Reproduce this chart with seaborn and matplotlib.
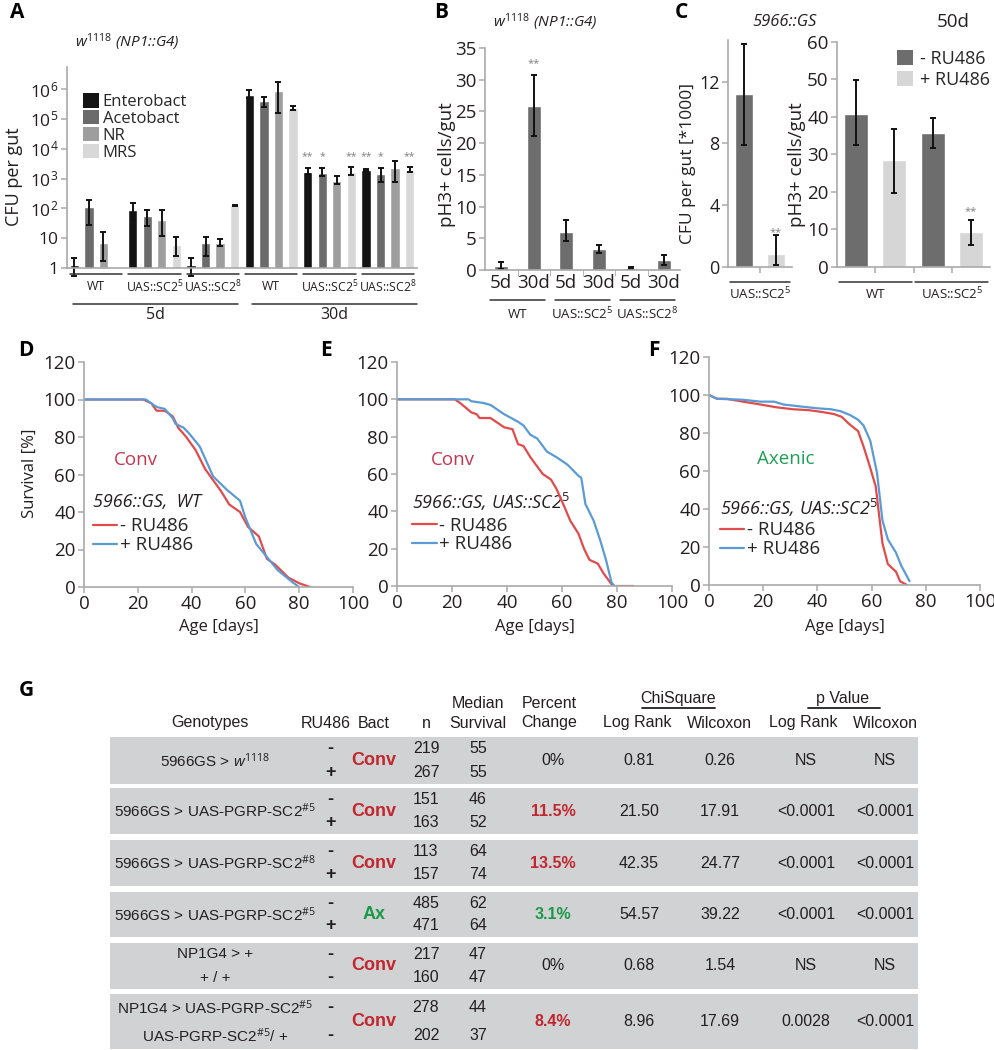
import numpy as np
import pandas as pd
import seaborn as sns
import matplotlib.pyplot as plt
from matplotlib.patches import Patch, Rectangle
from matplotlib.lines import Line2D
from matplotlib.ticker import NullLocator
from matplotlib.transforms import blended_transform_factory

sns.set_style("ticks")
plt.rcParams['font.family'] = ['Open Sans', 'DejaVu Sans']
plt.rcParams['mathtext.fontset'] = 'custom'
plt.rcParams['mathtext.rm'] = 'Open Sans'
plt.rcParams['mathtext.it'] = 'Open Sans:italic'
plt.rcParams['mathtext.bf'] = 'Open Sans:bold'

GRAY = '#a9a9a9'
INK = '#231f20'
RED = '#e24b4b'
BLUE = '#5b9bd5'
CONV = '#c8344f'
AXEN = '#1e9e55'
TRED = '#c1272d'
TGREEN = '#1a9a48'
DARK = '#6d6d6d'
LIGHT = '#d6d6d6'

# ---------------- A: CFU per gut, w1118 (NP1::G4) ----------------
a_groups = ['WT 5d', 'SC2-5 5d', 'SC2-8 5d', 'WT 30d', 'SC2-5 30d', 'SC2-8 30d']
a_bact = ['Enterobact', 'Acetobact', 'NR', 'MRS']
a_colors = ['#141414', '#6b6b6b', '#9e9e9e', '#d8d8d8']
a_entero = [1.3, 90, 1.3, 6.4e5, 1.7e3, 1.95e3]
a_entero_lo = [0.55, 42, 0.55, 5.0e5, 1.45e3, 1.85e3]
a_entero_hi = [2.2, 150, 2.2, 9.0e5, 2.25e3, 2.1e3]
a_aceto = [110, 54, 7, 3.9e5, 1.5e3, 1.45e3]
a_aceto_lo = [28, 25, 2.5, 2.5e5, 1.2e3, 760]
a_aceto_hi = [195, 90, 11, 5.6e5, 2.25e3, 2.25e3]
a_nr = [6.9, 42, 6.9, 8.5e5, 800, 2.25e3]
a_nr_lo = [1.7, 12, 5.6, 1.6e5, 670, 750]
a_nr_hi = [16, 85, 9.4, 1.7e6, 1.2e3, 3.9e3]
a_mrs = [np.nan, 6, 125, 2.3e5, 1.7e3, 1.95e3]
a_mrs_lo = [np.nan, 2.5, 118, 2.0e5, 1.35e3, 1.7e3]
a_mrs_hi = [np.nan, 10.9, 132, 2.8e5, 2.4e3, 2.35e3]
a_star_groups = [4, 5]
a_star_marks = ['**', '*', '', '**']
a_geno_labels = ['WT', 'UAS::SC2$^5$', 'UAS::SC2$^8$'] * 2
a_age_labels = ['5d', '30d']

# ---------------- B: pH3+ cells/gut ----------------
b_groups = ['WT', 'UAS::SC2$^5$', 'UAS::SC2$^8$']
b_ages = ['5d', '30d']
b_5d = [0.6, 6.0, 0.3]
b_5d_lo = [0.2, 4.5, 0.1]
b_5d_hi = [1.2, 7.9, 0.5]
b_30d = [25.8, 3.3, 1.5]
b_30d_lo = [21.2, 2.7, 0.8]
b_30d_hi = [30.8, 3.9, 2.3]

# ---------------- C: 5966::GS, 50d ----------------
c_trt = ['- RU486', '+ RU486']
c_cfu = [11.2, 0.85]
c_cfu_lo = [7.9, 0.1]
c_cfu_hi = [14.45, 2.1]
c_groups = ['WT', 'UAS::SC2$^5$']
c_ph3_minus = [40.9, 35.6]
c_ph3_minus_lo = [32.4, 31.6]
c_ph3_minus_hi = [49.8, 39.6]
c_ph3_plus = [28.4, 9.3]
c_ph3_plus_lo = [19.7, 5.8]
c_ph3_plus_hi = [36.9, 12.4]

# ---------------- D/E/F: survival ----------------
d_minus_age = [0, 22, 25, 27, 30, 33, 35, 38, 41.5, 45, 48, 51, 54, 58, 61, 65, 68, 71, 76, 80, 84]
d_minus_surv = [100, 100, 98, 94, 94, 91, 85, 80, 73, 63, 57, 51, 44, 40, 32, 27, 15, 12, 5, 2, 0]
d_plus_age = [0, 23, 27, 30, 33, 34, 37, 39, 43, 48, 53, 58, 60, 64, 68, 72, 78, 80]
d_plus_surv = [100, 100, 96, 95, 90, 87, 85, 82, 75, 59, 52, 46, 37, 23, 16, 9, 2, 0]
e_minus_age = [0, 21, 23, 27, 29, 30, 34, 39, 42, 44, 46, 48.5, 53, 56, 58, 61, 63, 66, 68, 70, 73, 75, 78, 79, 86]
e_minus_surv = [100, 100, 98, 93, 92, 90, 90, 85, 84, 76, 75, 69, 60, 57, 52, 42, 35, 28, 20, 14, 12, 7, 1, 0, 0]
e_plus_age = [0, 26, 27, 31.5, 34, 39, 44, 46, 48.5, 51, 54.5, 58, 62, 66, 67, 68.5, 71.5, 74, 76, 78, 79]
e_plus_surv = [100, 100, 99, 98, 97, 92, 88, 86, 81, 79, 72, 69, 65, 59, 58, 44, 35, 24, 14, 2, 0]
f_minus_age = [0, 3, 6.5, 12.5, 19, 25, 31, 37, 42, 46, 49, 51.5, 55, 57, 59, 61.5, 64, 66, 69, 70.5, 73]
f_minus_surv = [100, 98, 98, 96.5, 95, 93.5, 92.5, 92, 91, 90, 88.5, 85, 81, 73, 64, 52, 22, 11, 7, 2, 0]
f_plus_age = [0, 3, 12.5, 19, 24, 27.5, 33.5, 40, 45, 48.5, 52, 55, 57, 59.5, 62, 64, 66, 69, 71, 74]
f_plus_surv = [100, 98, 97.5, 96.5, 96.5, 95, 94, 93, 92.5, 91.5, 89.5, 87, 84, 76, 59, 34, 24, 17, 10, 2]

# ---------------- G: lifespan table ----------------
g_geno = [['5966GS > $\\mathit{w}^{\\mathit{1118}}$'],
          ['5966GS > UAS-PGRP-SC2$^{\\#5}$'],
          ['5966GS > UAS-PGRP-SC2$^{\\#8}$'],
          ['5966GS > UAS-PGRP-SC2$^{\\#5}$'],
          ['NP1G4 > +', '+ / +'],
          ['NP1G4 > UAS-PGRP-SC2$^{\\#5}$', 'UAS-PGRP-SC2$^{\\#5}$/ +']]
g_ru486 = [('-', '+'), ('-', '+'), ('-', '+'), ('-', '+'), ('-', '-'), ('-', '-')]
g_bact = ['Conv', 'Conv', 'Conv', 'Ax', 'Conv', 'Conv']
g_n = [(219, 267), (151, 163), (113, 157), (485, 471), (217, 160), (278, 202)]
g_median = [(55, 55), (46, 52), (64, 74), (62, 64), (47, 47), (44, 37)]
g_pct = ['0%', '11.5%', '13.5%', '3.1%', '0%', '8.4%']
g_chi_lr = ['0.81', '21.50', '42.35', '54.57', '0.68', '8.96']
g_chi_w = ['0.26', '17.91', '24.77', '39.22', '1.54', '17.69']
g_p_lr = ['NS', '<0.0001', '<0.0001', '<0.0001', 'NS', '0.0028']
g_p_w = ['NS', '<0.0001', '<0.0001', '<0.0001', 'NS', '<0.0001']

W, H = 994, 1050
fig = plt.figure(figsize=(W / 100, H / 100), dpi=100)

# pixel overlay (top-down) used for layout text and the table
ov = fig.add_axes([0, 0, 1, 1])
ov.set_xlim(0, W)
ov.set_ylim(H, 0)
ov.axis('off')


def rect(l, t, r, b):
    return [l / W, 1 - b / H, (r - l) / W, (b - t) / H]


def ptext(x, y, s, **kw):
    kw.setdefault('ha', 'center')
    kw.setdefault('va', 'center')
    kw.setdefault('color', INK)
    ov.text(x, y, s, **kw)


def style(ax, fs):
    sns.despine(ax=ax)
    for s in ['left', 'bottom']:
        ax.spines[s].set_color(GRAY)
        ax.spines[s].set_linewidth(1.2)
    ax.tick_params(colors=GRAY, labelcolor=INK, length=4, width=1.1, labelsize=fs, pad=2)
    ax.set_xlabel('')
    ax.set_ylabel('')
    ax.set_facecolor('none')


def bracket(ax, x0, x1, y_line, label, y_lab, fs):
    tr = blended_transform_factory(ax.transData, ov.transData)
    ax.plot([x0, x1], [y_line, y_line], color='#333333', lw=1.1, transform=tr, clip_on=False)
    ax.text((x0 + x1) / 2, y_lab, label, transform=tr, ha='center', va='center',
            fontsize=fs, color=INK)


def errbars(ax, x, mid, lo, hi):
    mid, lo, hi = np.array(mid), np.array(lo), np.array(hi)
    eb = ax.errorbar(x, mid, yerr=[mid - lo, hi - mid], fmt='none', ecolor='#111111',
                     elinewidth=1.4, capsize=2.5, capthick=1.4)
    for art in list(eb.lines[1]) + list(eb.lines[2]):
        art.set_clip_on(False)


# ---------- A ----------
axA = fig.add_axes(rect(67, 67, 417, 268))
rows = []
for b, vals in zip(a_bact, [a_entero, a_aceto, a_nr, a_mrs]):
    for g, v in zip(a_groups, vals):
        rows.append((g, b, v))
dfa = pd.DataFrame(rows, columns=['group', 'bact', 'cfu']).dropna()
sns.barplot(data=dfa, x='group', y='cfu', hue='bact', order=a_groups, hue_order=a_bact,
            palette=dict(zip(a_bact, a_colors)), width=1.0, gap=0.36, errorbar=None,
            saturation=1, legend=False, ax=axA)
axA.set_yscale('log')
axA.set_ylim(1, 10 ** 6.74)
axA.set_xlim(-0.5, 5.5)
style(axA, 12.5)
for k, (m, lo, hi) in enumerate([(a_entero, a_entero_lo, a_entero_hi), (a_aceto, a_aceto_lo, a_aceto_hi),
                                 (a_nr, a_nr_lo, a_nr_hi), (a_mrs, a_mrs_lo, a_mrs_hi)]):
    errbars(axA, np.arange(6) + (k - 1.5) * 0.25, m, lo, hi)
for g in a_star_groups:
    for k, s in enumerate(a_star_marks):
        if s:
            axA.text(g + (k - 1.5) * 0.25, 5.5e3, s, ha='center', va='center', fontsize=7.5, color='#808080')
axA.set_yticks([1, 10, 1e2, 1e3, 1e4, 1e5, 1e6])
axA.set_yticklabels(['1', '10', '$10^2$', '$10^3$', '$10^4$', '$10^5$', '$10^6$'])
axA.yaxis.set_minor_locator(NullLocator())
axA.set_xticks([])
axA.legend([Patch(facecolor=c, edgecolor='none') for c in a_colors], a_bact, loc='upper left',
           bbox_to_anchor=(0.045, 0.87), frameon=False, fontsize=12, handlelength=0.95,
           handleheight=0.95, handletextpad=0.25, labelspacing=0.0, borderaxespad=0, borderpad=0)
for g, lab in enumerate(a_geno_labels):
    bracket(axA, g - 0.45, g + 0.45, 274, lab, 287, 8.8)
bracket(axA, -0.4, 2.43, 304, a_age_labels[0], 315, 11.5)
bracket(axA, 2.67, 5.5, 304, a_age_labels[1], 315, 11.5)
ptext(14, 177, 'CFU per gut', rotation=90, fontsize=13)
ptext(75, 42, '$\\mathit{w}^{\\mathit{1118}}$ (NP1::G4)', ha='left', fontsize=11, style='italic')

# ---------- B ----------
axB = fig.add_axes(rect(485, 48, 680, 270))
dfb = pd.DataFrame({'geno': b_groups * 2, 'age': [b_ages[0]] * 3 + [b_ages[1]] * 3,
                    'ph3': b_5d + b_30d})
sns.barplot(data=dfb, x='geno', y='ph3', hue='age', order=b_groups, hue_order=b_ages,
            palette=[DARK, DARK], width=1.0, gap=0.58, errorbar=None, saturation=1,
            legend=False, ax=axB)
axB.set_xlim(-0.5, 2.5)
axB.set_ylim(0, 35)
style(axB, 13.5)
errbars(axB, np.arange(3) - 0.25, b_5d, b_5d_lo, b_5d_hi)
errbars(axB, np.arange(3) + 0.25, b_30d, b_30d_lo, b_30d_hi)
axB.set_yticks(range(0, 36, 5))
xb = np.sort(np.concatenate([np.arange(3) - 0.25, np.arange(3) + 0.25]))
axB.set_xticks(xb)
axB.set_xticklabels(b_ages * 3)
axB.tick_params(axis='x', length=0, pad=3)
axB.set_xticks([0, 0.5, 1, 1.5, 2], minor=True)
axB.tick_params(axis='x', which='minor', length=4, color=GRAY)
axB.text(0.25, 32.6, '**', ha='center', va='center', fontsize=8, color='#808080')
for g, lab in enumerate(b_groups):
    bracket(axB, g - 0.42, g + 0.42, 300, lab, 314, 9.5)
ptext(447, 165, 'pH3+ cells/gut', rotation=90, fontsize=13.5)
ptext(545, 22, '$\\mathit{w}^{\\mathit{1118}}$ (NP1::G4)', fontsize=11, style='italic')

# ---------- C left ----------
axC1 = fig.add_axes(rect(728, 40, 792, 267))
dfc = pd.DataFrame({'geno': ['UAS::SC2$^5$'] * 2, 'trt': c_trt, 'cfu': c_cfu})
sns.barplot(data=dfc, x='geno', y='cfu', hue='trt', hue_order=c_trt, palette=[DARK, LIGHT],
            width=1.0, gap=0.45, errorbar=None, saturation=1, legend=False, ax=axC1)
axC1.set_xlim(-0.5, 0.5)
axC1.set_ylim(0, 14.7)
style(axC1, 13)
errbars(axC1, [-0.25, 0.25], c_cfu, c_cfu_lo, c_cfu_hi)
axC1.set_yticks([0, 4, 8, 12])
axC1.set_xticks([0])
axC1.set_xticklabels([''])
axC1.text(0.25, 2.2, '**', ha='center', va='center', fontsize=8, color='#808080')
bracket(axC1, -0.47, 0.47, 282, 'UAS::SC2$^5$', 294, 9.5)
ptext(688, 164, 'CFU per gut [*1000]', rotation=90, fontsize=12.5)
ptext(785, 22, '5966::GS', fontsize=12, style='italic')

# ---------- C right ----------
axC2 = fig.add_axes(rect(837, 42, 990, 267))
dfc2 = pd.DataFrame({'geno': c_groups * 2, 'trt': [c_trt[0]] * 2 + [c_trt[1]] * 2,
                     'ph3': c_ph3_minus + c_ph3_plus})
sns.barplot(data=dfc2, x='geno', y='ph3', hue='trt', order=c_groups, hue_order=c_trt,
            palette=[DARK, LIGHT], width=1.0, gap=0.37, errorbar=None, saturation=1,
            legend=False, ax=axC2)
axC2.set_xlim(-0.5, 1.5)
axC2.set_ylim(0, 60)
style(axC2, 13.5)
errbars(axC2, np.arange(2) - 0.25, c_ph3_minus, c_ph3_minus_lo, c_ph3_minus_hi)
errbars(axC2, np.arange(2) + 0.25, c_ph3_plus, c_ph3_plus_lo, c_ph3_plus_hi)
axC2.set_yticks(range(0, 61, 10))
axC2.set_xticks([0, 0.5, 1])
axC2.set_xticklabels(['', '', ''])
axC2.text(1.25, 14.7, '**', ha='center', va='center', fontsize=8, color='#808080')
for g, lab in enumerate(c_groups):
    bracket(axC2, g - 0.48, g + 0.48, 282, lab, 294, 9.5)
axC2.legend([Patch(facecolor=DARK, edgecolor='none'), Patch(facecolor=LIGHT, edgecolor='none')],
            c_trt, loc='upper left', bbox_to_anchor=(0.39, 0.965), frameon=False, fontsize=13,
            handlelength=0.9, handleheight=0.9, handletextpad=0.4, labelspacing=0.15,
            borderaxespad=0, borderpad=0)
ptext(797, 165, 'pH3+ cells/gut', rotation=90, fontsize=13.5)
ptext(953, 22, '50d', fontsize=13.5)

# ---------- D/E/F ----------
surv = [
    ((84, 362, 353, 587), d_minus_age, d_minus_surv, d_plus_age, d_plus_surv,
     'Conv', CONV, (136, 460), '5966::GS,  WT', (93, 502), (0.033, 0.31)),
    ((397, 362, 672, 586), e_minus_age, e_minus_surv, e_plus_age, e_plus_surv,
     'Conv', CONV, (453, 460), '5966::GS, UAS::SC2$^{\\mathit{5}}$', (412, 502), (0.055, 0.31)),
    ((709, 357, 980, 585), f_minus_age, f_minus_surv, f_plus_age, f_plus_surv,
     'Axenic', AXEN, (786, 459), '5966::GS, UAS::SC2$^{\\mathit{5}}$', (720, 508), (0.04, 0.28)),
]
for box, ma, ms, pa, ps, tag, tagc, tagxy, title, titxy, legxy in surv:
    ax = fig.add_axes(rect(*box))
    dfs = pd.concat([pd.DataFrame({'age': ma, 'surv': ms, 'trt': c_trt[0]}),
                     pd.DataFrame({'age': pa, 'surv': ps, 'trt': c_trt[1]})])
    sns.lineplot(data=dfs, x='age', y='surv', hue='trt', palette={c_trt[0]: RED, c_trt[1]: BLUE},
                 estimator=None, sort=False, legend=False, lw=1.6, ax=ax)
    ax.set_xlim(0, 100)
    ax.set_ylim(0, 120)
    style(ax, 13.5)
    ax.set_xticks(range(0, 101, 20))
    ax.set_yticks(range(0, 121, 20))
    ax.legend([Line2D([], [], color=RED, lw=1.6), Line2D([], [], color=BLUE, lw=1.6)], c_trt,
              loc='upper left', bbox_to_anchor=legxy, frameon=False, fontsize=13.5,
              handlelength=1.3, handletextpad=0.15, labelspacing=0.05, borderaxespad=0, borderpad=0)
    ptext(tagxy[0], tagxy[1], tag, color=tagc, fontsize=13.5)
    ptext(titxy[0], titxy[1], title, ha='left', fontsize=13, style='italic')
    ptext((box[0] + box[2]) / 2, 627, 'Age [days]', fontsize=12)
ptext(30, 473, 'Survival [%]', rotation=90, fontsize=12)

# ---------- panel letters ----------
for lab, x, y in [('A', 17, 12), ('B', 441, 13), ('C', 681, 13), ('D', 26, 350),
                  ('E', 326, 350), ('F', 654, 350), ('G', 26, 690)]:
    ptext(x, y, lab, fontsize=15, fontweight='bold', color='black')

# ---------- G table ----------
TF = 'Liberation Sans'
TS = 11.5
row_top = [737, 788, 840, 892, 943, 994]
row_bot = [784, 834, 886, 937, 989, 1049]
col_x = {'geno': 215, 'ru': 330, 'bact': 374, 'n': 426, 'med': 478, 'pct': 553,
         'clr': 639, 'cw': 720, 'plr': 806, 'pw': 885}


def ttext(x, y, s, **kw):
    kw.setdefault('fontsize', TS)
    kw.setdefault('family', TF)
    ptext(x, y, s, **kw)


ttext(210, 723, 'Genotypes')
ttext(326, 723, 'RU486')
ttext(374, 723, 'Bact')
ttext(426, 723, 'n')
ttext(478, 704, 'Median')
ttext(478, 723, 'Survival')
ttext(549, 703, 'Percent')
ttext(549, 723, 'Change')
ttext(678, 698, 'ChiSquare')
ttext(843, 698, 'p Value')
ov.plot([642, 715], [708, 708], color=INK, lw=1.3)
ov.plot([808, 880], [708, 708], color=INK, lw=1.3)
ttext(637, 723, 'Log Rank')
ttext(719, 723, 'Wilcoxon')
ttext(803, 723, 'Log Rank')
ttext(885, 723, 'Wilcoxon')

for i in range(6):
    t, b = row_top[i], row_bot[i]
    ov.add_patch(Rectangle((110, t), 808, b - t, facecolor='#d1d2d4', edgecolor='none'))
    y1, y2, ym = t + 0.25 * (b - t), t + 0.75 * (b - t), (t + b) / 2
    if len(g_geno[i]) == 1:
        ttext(col_x['geno'], ym, g_geno[i][0], fontsize=11)
    else:
        ttext(col_x['geno'], y1, g_geno[i][0], fontsize=11)
        ttext(col_x['geno'], y2, g_geno[i][1], fontsize=11)
    ttext(col_x['ru'], y1, g_ru486[i][0], fontweight='bold', fontsize=13)
    ttext(col_x['ru'], y2, g_ru486[i][1], fontweight='bold', fontsize=13)
    bc = TRED if g_bact[i] == 'Conv' else TGREEN
    ttext(col_x['bact'], ym, g_bact[i], color=bc, fontweight='bold', fontsize=13)
    ttext(col_x['n'], y1, str(g_n[i][0]))
    ttext(col_x['n'], y2, str(g_n[i][1]))
    ttext(col_x['med'], y1, str(g_median[i][0]))
    ttext(col_x['med'], y2, str(g_median[i][1]))
    if g_pct[i] == '0%':
        ttext(col_x['pct'], ym, g_pct[i])
    else:
        ttext(col_x['pct'], ym, g_pct[i], color=bc, fontweight='bold')
    ttext(col_x['clr'], ym, g_chi_lr[i])
    ttext(col_x['cw'], ym, g_chi_w[i])
    ttext(col_x['plr'], ym, g_p_lr[i])
    ttext(col_x['pw'], ym, g_p_w[i])

fig.savefig('out.png', dpi=100)
